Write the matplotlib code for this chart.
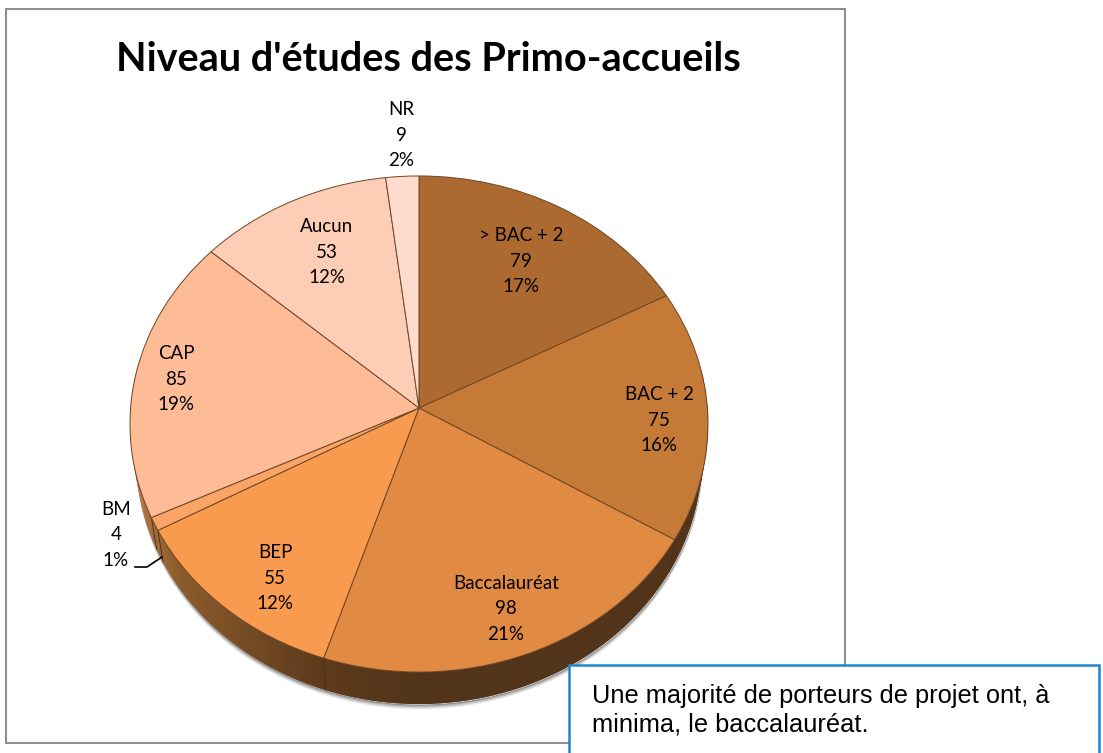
import numpy as np
import matplotlib
matplotlib.use("Agg")
import matplotlib.pyplot as plt
from matplotlib.patches import Rectangle
from matplotlib.transforms import Transform

categories = ["> BAC + 2", "BAC + 2", "Baccalauréat", "BEP", "BM", "CAP", "Aucun", "NR"]
values = [79, 75, 98, 55, 4, 85, 53, 9]
colors = ["#ac6a31", "#c57a37", "#e08a43", "#f99b4f", "#fba468", "#fdbc96", "#fecdb5", "#fedccd"]

title = "Niveau d'études des Primo-accueils"
note = "Une majorité de porteurs de projet ont, à\nminima, le baccalauréat."

W, H = 1103, 753
cx, cy = 419, 408
sx, sy, k = 288.4, 247.0, -0.0645
depth = 32
shrink = 0.98


def project(u, v):
    d = 1 - k * v
    return sx * u / d, sy * v / d


# perspective view of the unit circle, result in pixels around the pie centre
class Perspective(Transform):
    input_dims = 2
    output_dims = 2

    def transform_non_affine(self, values):
        values = np.asarray(values, dtype=float)
        x, y = project(values[:, 0], values[:, 1])
        return np.column_stack([x, y])


fig = plt.figure(figsize=(W / 100, H / 100), dpi=100, facecolor="white")
ax = fig.add_axes([0, 0, 1, 1])

wedges, _ = ax.pie(values, colors=colors, startangle=90, counterclock=False, radius=1,
                   wedgeprops={"edgecolor": "#6e4524", "linewidth": 0.7, "zorder": 5})
persp = Perspective() + ax.transData
for w in wedges:
    w.set_transform(persp)
ax.set_aspect("auto")
ax.set_xlim(-cx, W - cx)
ax.set_ylim(-(H - cy), cy)
ax.axis("off")

# soft shadow under the rim
t = np.radians(np.linspace(180, 360, 200))
px, py = project(np.cos(t), np.sin(t))
for off, a in [(5, 0.06), (4, 0.08), (3, 0.1), (2, 0.14), (1, 0.18)]:
    ax.fill_between(px * shrink, py - depth - off, py - depth, color="black", alpha=a, lw=0, zorder=1)

# side of the disc, shaded from left to right
side_x = [-1.0, -0.93, -0.8, -0.33, 0.0, 1.0]
side_r = [0.78, 0.66, 0.55, 0.37, 0.32, 0.32]
side_g = [0.52, 0.44, 0.36, 0.23, 0.205, 0.205]
side_b = [0.30, 0.25, 0.17, 0.11, 0.10, 0.10]
angles = np.radians(np.arange(170, 371, 1.0))
for a1, a2 in zip(angles[:-2], angles[2:]):
    x1, y1 = project(np.cos(a1), np.sin(a1))
    x2, y2 = project(np.cos(a2), np.sin(a2))
    xm = (np.cos(a1) + np.cos(a2)) / 2
    c = (np.interp(xm, side_x, side_r), np.interp(xm, side_x, side_g), np.interp(xm, side_x, side_b))
    ax.fill([x1, x2, x2 * shrink, x1 * shrink], [y1, y2, y2 - depth, y1 - depth], color=c, lw=0, zorder=2)

# wedge edges carried down the side
bounds = 90 - 360 * np.cumsum(values) / sum(values)
for b in np.radians(bounds):
    if np.sin(b) < 0:
        bx, by = project(np.cos(b), np.sin(b))
        ax.plot([bx, bx * shrink], [by, by - depth], color="#4a2e14", lw=0.6, zorder=3)

# everything in page pixels on top of the pie
ov = fig.add_axes([0, 0, 1, 1], facecolor="none")
ov.set_xlim(0, W)
ov.set_ylim(H, 0)
ov.axis("off")

ov.add_patch(Rectangle((6, 9), 839, 734, fc="none", ec="#8e8e8e", lw=1.5))
ov.text(428, 59, title, ha="center", va="center", family="Lato", weight="bold", fontsize=28.5, color="black")

label_pos = [(521, 261), (659, 420), (506, 609), (275, 578), (116, 535), (176, 379), (327, 252), (401, 135)]
total = sum(values)
for cat, val, (x, y) in zip(categories, values, label_pos):
    pct = round(val / total * 100)
    ov.text(x, y, f"{cat}\n{val}\n{pct}%", ha="center", va="center", family="Lato",
            fontsize=13.5, linespacing=1.62, color="black")

ov.plot([135, 147, 162], [567, 567, 557], color="black", lw=1.2)

ov.add_patch(Rectangle((569, 665), 530, 120, fc="white", ec="#1f86c8", lw=1.8, zorder=6))
ov.text(592, 710, note, ha="left", va="center", family="Liberation Sans", fontsize=18.3,
        linespacing=1.22, color="black", zorder=7)

fig.savefig("out.png", dpi=100)
